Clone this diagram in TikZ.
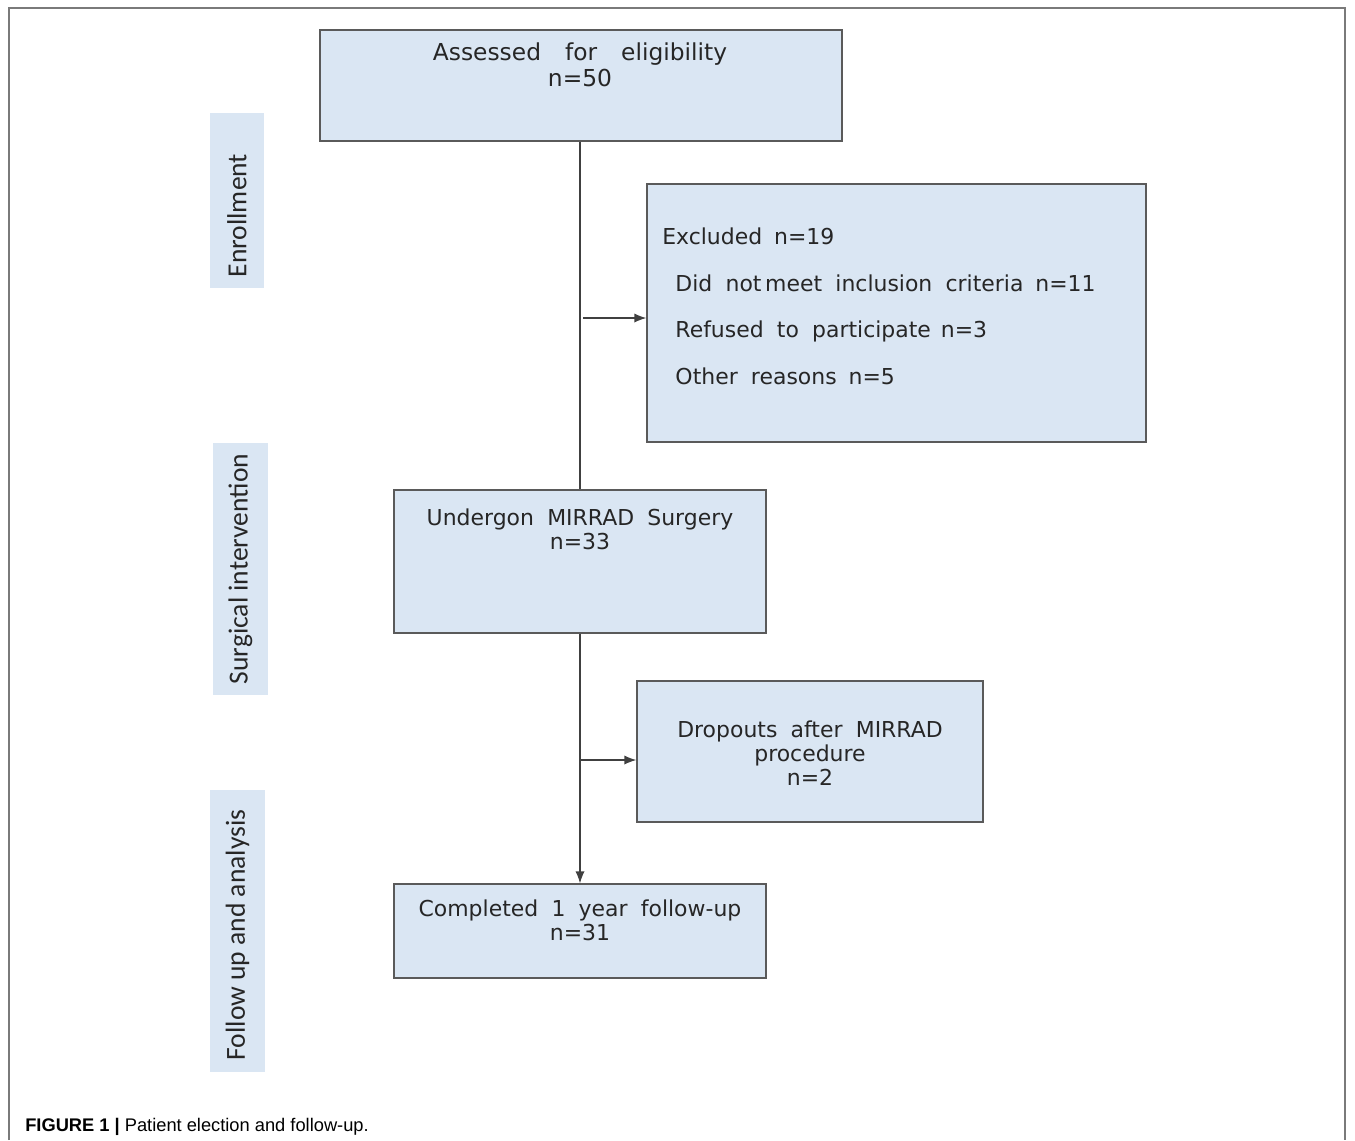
\documentclass[tikz,border=0pt]{standalone}
\usepackage{fontspec}
\setmainfont{DejaVu Sans}
\newfontfamily\boxfont[WordSpace=1.9]{DejaVu Sans}
\newfontfamily\sidefont{Carlito}
\newfontfamily\capfont{Liberation Sans}
\usetikzlibrary{arrows.meta, positioning, fit, calc}
\definecolor{boxblue}{HTML}{DAE6F3}
\definecolor{boxline}{HTML}{5A5A5A}
\definecolor{framegray}{HTML}{7A7A7A}

\tikzset{
  flowbox/.style={draw=boxline, fill=boxblue, line width=0.9pt, inner sep=0pt},
  sidebox/.style={fill=boxblue, inner sep=0pt},
  boxtext/.style={font=\boxfont\fontsize{15.6}{17}\selectfont, align=center, inner sep=0pt, text=black!85},
  sidetext/.style={font=\sidefont\fontsize{19.6}{22}\selectfont, rotate=90, inner sep=0pt, text=black!85},
  flowline/.style={draw=black!75, line width=0.9pt},
  flowarrow/.style={flowline, -{Latex[length=3mm, width=2.3mm]}},
}

\begin{document}
\begin{tikzpicture}[x=0.025cm, y=-0.025cm]
  \useasboundingbox (0,0) rectangle (1355,1140);
  % frame
  \draw[framegray, line width=1pt] (9,1140) -- (9,8) -- (1345,8) -- (1345,1140);

  % side labels
  \node[sidebox, fit={(210,113) (264,288)}] (enrolbox) {};
  \node[sidetext] (enroltxt) at ($(enrolbox.center)+(0,15)$) {Enrollment};
  \node[sidebox, fit={(213,443) (268,695)}] (surgbox) {};
  \node[sidetext] (surgtxt) at (surgbox.center) {Surgical intervention};
  \node[sidebox, fit={(210,790) (265,1072)}] (followbox) {};
  \node[sidetext] (followtxt) at ($(followbox.center)+(0,4)$) {Follow up and analysis};

  % flow boxes
  \node[flowbox, fit={(320,30) (842,141)}] (assess) {};
  \node[boxtext, anchor=north, font=\boxfont\fontsize{16.6}{18.5}\selectfont] (assesstxt) at (580,42)
    {Assessed\hspace{0.6cm}for\hspace{0.6cm}eligibility\\n=50};

  \node[flowbox, fit={(647,184) (1146,442)}] (excl) {};
  \node[boxtext, anchor=north west, align=left, font=\boxfont\fontsize{15.6}{33}\selectfont] (excltxt) at (662,228)
    {Excluded\hspace{0.3cm}n=19\\
     \hspace*{0.33cm}Did not\,meet inclusion criteria\hspace{0.3cm}n=11\\
     \hspace*{0.33cm}Refused to participate\hspace{0.25cm}n=3\\
     \hspace*{0.33cm}Other reasons\hspace{0.3cm}n=5};

  \node[flowbox, fit={(394,490) (766,633)}] (surg) {};
  \node[boxtext, anchor=north] (surgtxt) at (580,509) {Undergon MIRRAD Surgery\\n=33};

  \node[flowbox, fit={(637,681) (983,822)}] (drop) {};
  \node[boxtext, anchor=north] (droptxt) at (810,721) {Dropouts after MIRRAD\\procedure\\n=2};

  \node[flowbox, fit={(394,884) (766,978)}] (comp) {};
  \node[boxtext, anchor=north] (comptxt) at (580,900) {Completed 1 year follow-up\\n=31};

  % connectors
  \coordinate (br1) at (583,318);
  \coordinate (br2) at (580,760);
  \draw[flowline] (surg.north |- assess.south) -- (surg.north);
  \draw[flowarrow] (br1) -- (br1 -| excl.west);
  \draw[flowarrow] (surg.south) -- (comp.north);
  \draw[flowarrow] (br2) -- (br2 -| drop.west);

  % caption
  \node[anchor=base west, inner sep=0pt, font=\capfont\fontsize{13}{15}\selectfont] (caption) at (25,1131)
    {\textbf{FIGURE 1 |} Patient election and follow-up.};
\end{tikzpicture}
\end{document}
